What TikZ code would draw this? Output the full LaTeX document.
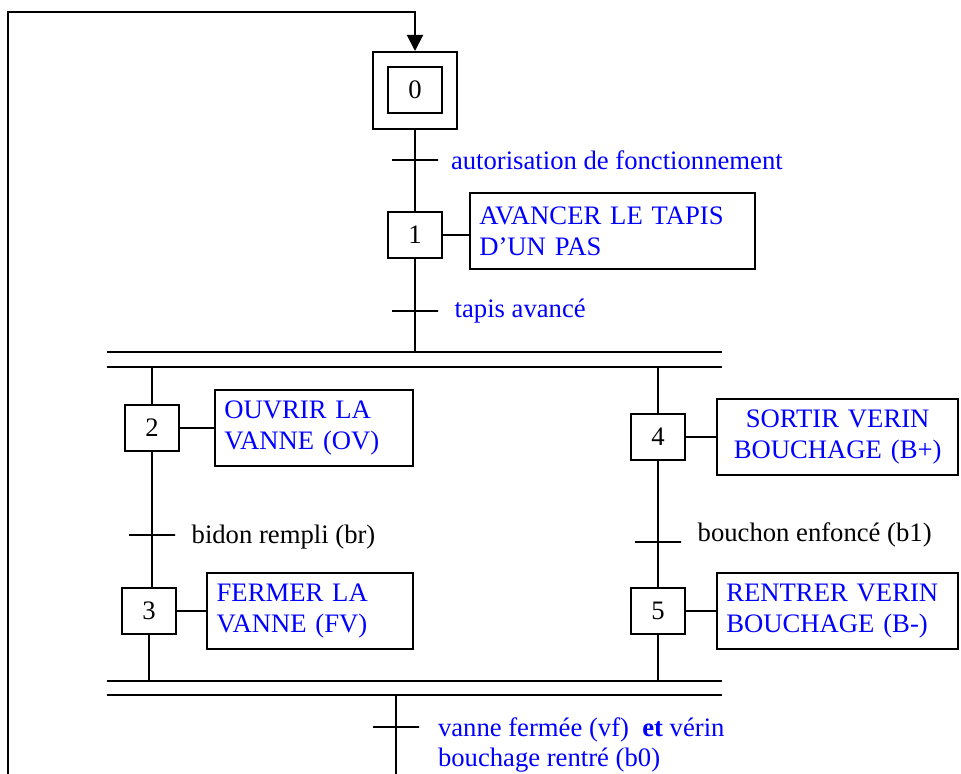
\documentclass[tikz,border=0pt]{standalone}
\usepackage{fontspec}
\setmainfont{Liberation Serif}
\usetikzlibrary{arrows.meta, positioning}

\begin{document}
\begin{tikzpicture}[
    x=0.75pt, y=-0.75pt,
    line width=1.5pt,
    font=\fontsize{20}{23}\selectfont,
    etape/.style={
      draw,
      minimum width=40.5pt,
      minimum height=34.5pt,
      inner sep=0pt
    },
    action/.style={
      draw,
      text=blue,
      align=left,
      text width=#1,
      minimum height=57pt,
      inner xsep=7pt
    },
    transition/.style={
      draw,
      minimum width=34.5pt,
      minimum height=0pt,
      inner sep=0pt
    },
    recep/.style={anchor=west, inner sep=0pt}
  ]
    \useasboundingbox (0,0) rectangle (961,774);

    \node[etape] (e0) at (415,90) {0};
    \node[draw, minimum width=63pt, minimum height=57.75pt] (e0ext) at (415,90.5) {};
    \node[etape] (e1) at (415,235) {1};
    \node[etape] (e2) at (152,428) {2};
    \node[etape] (e3) at (149,611) {3};
    \node[etape] (e4) at (658,437) {4};
    \node[etape] (e5) at (658,611) {5};

    \node[action=199.75pt, right=19.5pt of e1, yshift=3pt] (a1) {AVANCER LE TAPIS\\D’UN PAS};
    \node[action=134.5pt, right=25.5pt of e2] (a2) {OUVRIR LA\\VANNE (OV)};
    \node[action=140.5pt, right=22pt of e3] (a3) {FERMER LA\\VANNE (FV)};
    \node[action=167pt, align=center, right=22.5pt of e4] (a4) {SORTIR VERIN\\BOUCHAGE (B+)};
    \node[action=167pt, right=22.5pt of e5] (a5) {RENTRER VERIN\\BOUCHAGE (B-)};

    \node[transition] (t1) at (415,160) {};
    \node[transition] (t2) at (415,311) {};
    \node[transition] (t3) at (152,535) {};
    \node[transition] (t4) at (658,542) {};
    \node[transition] (t5) at (396,727) {};

    \node[recep, text=blue, right=8.25pt of t1] (r1) {autorisation de fonctionnement};
    \node[recep, text=blue, right=11pt of t2] (r2) {tapis avancé};
    \node[recep, right=11pt of t3, yshift=-1.5pt] (r3) {bidon rempli (br)};
    \node[recep, right=11pt of t4, yshift=5pt] (r4) {bouchon enfoncé (b1)};
    \node[recep, text=blue, align=left, right=12.75pt of t5, yshift=-13.5pt] (r5)
      {vanne fermée (vf)\ \ \textbf{et} vérin\\bouchage rentré (b0)};

    \coordinate (divA) at (107,352);
    \coordinate (divB) at (722,352);
    \coordinate (divC) at (107,367);
    \coordinate (divD) at (722,367);
    \coordinate (convA) at (107,681);
    \coordinate (convB) at (722,681);
    \coordinate (convC) at (107,695);
    \coordinate (convD) at (722,695);
    \coordinate (bas) at (396,774);
    \coordinate (retourB) at (8,774);
    \coordinate (retourH) at (8,12);

    \draw (divA) -- (divB);
    \draw (divC) -- (divD);
    \draw (convA) -- (convB);
    \draw (convC) -- (convD);

    \draw (e0ext) -- (e1);
    \draw (e1) -- (e1 |- divA);
    \draw (e2 |- divC) -- (e2);
    \draw (e2.south) -- (e2.south |- e3.north);
    \draw (e3) -- (e3 |- convA);
    \draw (e4 |- divC) -- (e4);
    \draw (e4) -- (e5);
    \draw (e5) -- (e5 |- convA);
    \draw (t5 |- convC) -- (bas);

    \draw (e1.east) -- (e1.east -| a1.west);
    \draw (e2.east) -- (e2.east -| a2.west);
    \draw (e3.east) -- (e3.east -| a3.west);
    \draw (e4.east) -- (e4.east -| a4.west);
    \draw (e5.east) -- (e5.east -| a5.west);

    \draw[-{Triangle[length=12pt, width=12pt]}] (retourB) -- (retourH) -| (e0ext);
  \end{tikzpicture}
\end{document}
